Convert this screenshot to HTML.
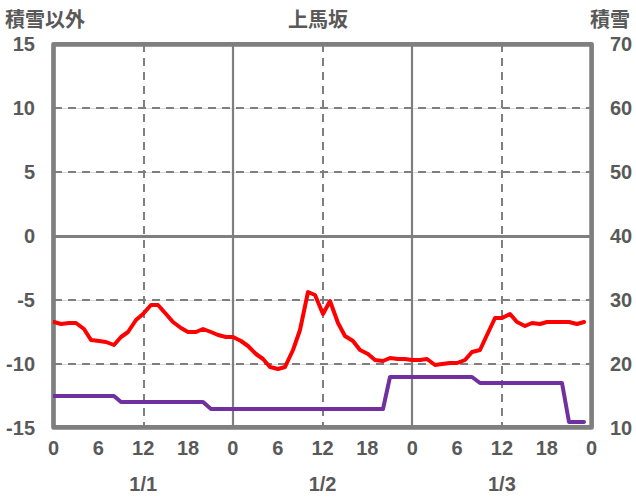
<!DOCTYPE html>
<html lang="ja"><head><meta charset="utf-8"><title>上馬坂</title>
<style>html,body{margin:0;padding:0;background:#fff;font-family:"Liberation Sans",sans-serif}svg{display:block}</style>
</head><body>
<svg width="636" height="501" viewBox="0 0 636 501" role="img" aria-label="上馬坂 積雪以外 / 積雪 chart">
<rect x="0" y="0" width="636" height="501" fill="#ffffff"/>
<g shape-rendering="crispEdges">
<rect x="54" y="108" width="537" height="1" fill="#dcdcdc"/>
<rect x="54" y="172" width="537" height="1" fill="#dcdcdc"/>
<rect x="54" y="300" width="537" height="1" fill="#dcdcdc"/>
<rect x="54" y="364" width="537" height="1" fill="#dcdcdc"/>
<line x1="54" y1="108" x2="591" y2="108" stroke="#7f7f7f" stroke-width="2" stroke-dasharray="8 6"/>
<line x1="54" y1="172" x2="591" y2="172" stroke="#7f7f7f" stroke-width="2" stroke-dasharray="8 6"/>
<line x1="54" y1="300" x2="591" y2="300" stroke="#7f7f7f" stroke-width="2" stroke-dasharray="8 6"/>
<line x1="54" y1="364" x2="591" y2="364" stroke="#7f7f7f" stroke-width="2" stroke-dasharray="8 6"/>
<line x1="144" y1="44" x2="144" y2="428" stroke="#7f7f7f" stroke-width="2" stroke-dasharray="8 6"/>
<line x1="323" y1="44" x2="323" y2="428" stroke="#7f7f7f" stroke-width="2" stroke-dasharray="8 6"/>
<line x1="502" y1="44" x2="502" y2="428" stroke="#7f7f7f" stroke-width="2" stroke-dasharray="8 6"/>
</g>
<rect x="54" y="235" width="537" height="3" fill="#7f7f7f"/>
<rect x="231.9" y="44" width="2.2" height="384" fill="#7f7f7f"/>
<rect x="410.9" y="44" width="2.2" height="384" fill="#7f7f7f"/>
<rect x="53.5" y="44.3" width="538.1" height="383.15" fill="none" stroke="#7f7f7f" stroke-width="4.67" stroke-linejoin="round"/>
<clipPath id="pc"><rect x="52.9" y="40" width="545" height="392"/></clipPath>
<g clip-path="url(#pc)" fill="none" stroke-width="4" stroke-linecap="round" stroke-linejoin="round">
<polyline points="54,396 61,396 69,396 76,396 84,396 91,396 99,396 106,396 114,396 121,402 128,402 136,402 143,402 151,402 158,402 166,402 173,402 181,402 188,402 196,402 203,402 211,409 218,409 226,409 233,409 241,409 248,409 256,409 263,409 270,409 278,409 285,409 293,409 300,409 308,409 315,409 323,409 330,409 338,409 345,409 353,409 360,409 368,409 375,409 383,409 390,377 398,377 405,377 412,377 420,377 427,377 435,377 442,377 450,377 457,377 465,377 472,377 480,383 487,383 495,383 502,383 510,383 517,383 525,383 532,383 540,383 547,383 554,383 562,383 569,422 577,422 584,422" stroke="#7030a0"/>
<polyline points="54,322 61,324 69,323 76,323 84,329 91,340 99,341 106,342 114,345 121,337 128,332 136,320 143,314 151,305 158,305 166,314 173,322 181,328 188,332 196,332 203,329 211,332 218,335 226,337 233,337 241,341 248,346 256,354 263,359 270,367 278,369 285,367 293,350 300,330 308,292 315,295 323,314 330,301 338,323 345,336 353,341 360,350 368,354 375,360 383,361 390,358 398,359 405,359 412,360 420,360 427,359 435,365 442,364 450,363 457,363 465,360 472,352 480,350 487,335 495,318 502,318 510,314 517,322 525,326 532,323 540,324 547,322 554,322 562,322 569,322 577,324 584,322" stroke="#ff0000"/>
</g>
<g fill="#595959" font-family="'Liberation Sans', 'Noto Sans CJK JP', sans-serif" font-size="20" font-weight="bold">
<text x="5" y="27">積雪以外</text><text x="288" y="27">上馬坂</text><text x="590" y="27">積雪</text>
<text x="35" y="50.7" text-anchor="end">15</text>
<text x="35" y="114.7" text-anchor="end">10</text>
<text x="35" y="178.7" text-anchor="end">5</text>
<text x="35" y="242.7" text-anchor="end">0</text>
<text x="35" y="306.7" text-anchor="end">-5</text>
<text x="35" y="370.7" text-anchor="end">-10</text>
<text x="35" y="434.7" text-anchor="end">-15</text>
<text x="610" y="50.7">70</text>
<text x="610" y="114.7">60</text>
<text x="610" y="178.7">50</text>
<text x="610" y="242.7">40</text>
<text x="610" y="306.7">30</text>
<text x="610" y="370.7">20</text>
<text x="610" y="434.7">10</text>
<text x="53.5" y="455" text-anchor="middle">0</text>
<text x="98.34" y="455" text-anchor="middle">6</text>
<text x="143.18" y="455" text-anchor="middle">12</text>
<text x="188.03" y="455" text-anchor="middle">18</text>
<text x="232.87" y="455" text-anchor="middle">0</text>
<text x="277.71" y="455" text-anchor="middle">6</text>
<text x="322.55" y="455" text-anchor="middle">12</text>
<text x="367.39" y="455" text-anchor="middle">18</text>
<text x="412.23" y="455" text-anchor="middle">0</text>
<text x="457.08" y="455" text-anchor="middle">6</text>
<text x="501.92" y="455" text-anchor="middle">12</text>
<text x="546.76" y="455" text-anchor="middle">18</text>
<text x="591.6" y="455" text-anchor="middle">0</text>
<text x="143.18" y="491" text-anchor="middle">1/1</text>
<text x="322.55" y="491" text-anchor="middle">1/2</text>
<text x="501.92" y="491" text-anchor="middle">1/3</text>
</g>
</svg>
</body></html>
